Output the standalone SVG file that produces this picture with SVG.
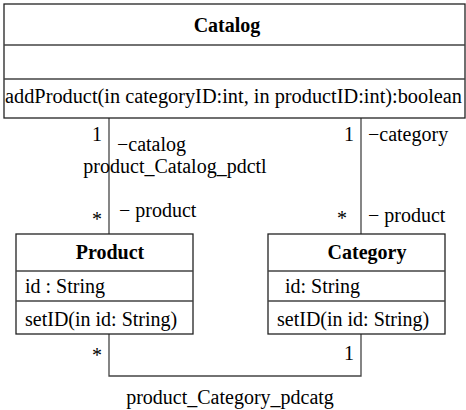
<svg xmlns="http://www.w3.org/2000/svg" width="466" height="410" viewBox="0 0 466 410">
<style>
.box{fill:#fff;stroke:#222;stroke-width:1.3}
.ln{stroke:#444;stroke-width:1.3;fill:none}
text{font-family:"Liberation Serif","Times New Roman",serif;font-size:20px;fill:#000}
.b{font-weight:bold}
.m{text-anchor:middle}
.e{text-anchor:end}
</style>
<rect width="466" height="410" fill="#fff"/>
<g id="connectors">
<path class="ln" d="M109,118 V234"/>
<path class="ln" d="M361,118 V234"/>
<path class="ln" d="M109,334 V376 H361 V334"/>
<text class="e" x="102" y="141">1</text>
<text x="117" y="151">−catalog</text>
<text class="m" x="175" y="173">product_Catalog_pdctl</text>
<text class="e" x="102" y="226">*</text>
<text x="119" y="217">− product</text>
<text class="e" x="354" y="141">1</text>
<text x="368" y="141">−category</text>
<text class="e" x="347" y="225">*</text>
<text x="368" y="222">− product</text>
<text class="e" x="102" y="362">*</text>
<text class="e" x="354" y="360">1</text>
<text class="m" x="230" y="404">product_Category_pdcatg</text>
</g>
<g id="Catalog">
<rect class="box" x="4" y="4" width="461" height="114"/>
<path class="ln" d="M4,45 H465 M4,79 H465"/>
<text class="b m" x="227" y="32">Catalog</text>
<text x="5" y="103" textLength="457" lengthAdjust="spacingAndGlyphs">addProduct(in categoryID:int, in productID:int):boolean</text>
</g>
<g id="Product">
<rect class="box" x="16" y="234" width="177" height="100"/>
<path class="ln" d="M16,271 H193 M16,301 H193"/>
<text class="b m" x="110" y="259">Product</text>
<text x="25" y="293">id : String</text>
<text x="25" y="326">setID(in id: String)</text>
</g>
<g id="Category">
<rect class="box" x="268" y="234" width="177" height="100"/>
<path class="ln" d="M268,271 H445 M268,301 H445"/>
<text class="b m" x="367" y="259">Category</text>
<text x="285" y="293">id: String</text>
<text x="277" y="326">setID(in id: String)</text>
</g>
</svg>
